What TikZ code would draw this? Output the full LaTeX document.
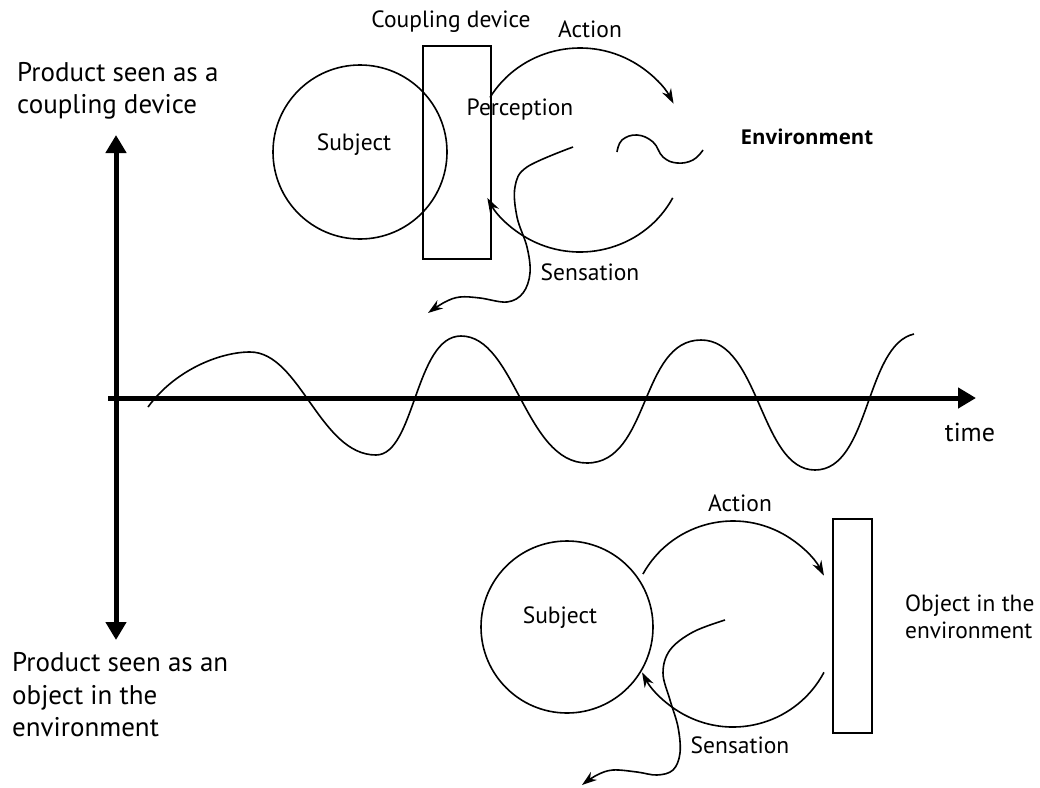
\documentclass[tikz,border=0pt]{standalone}
\usepackage{fontspec}
\setmainfont{PT Sans}
\newfontfamily\envfont{Open Sans}
\usetikzlibrary{arrows.meta}
\begin{document}
\begin{tikzpicture}[x=1pt,y=-1pt,
  axis/.style={line width=5pt},
  axistip/.style={-{Triangle[length=18pt,width=20pt]}},
  axisboth/.style={{Triangle[length=18pt,width=20pt]}-{Triangle[length=18pt,width=20pt]}},
  curve/.style={line width=1.6pt},
  curvetip/.style={-{Stealth[length=15pt,width=10pt]}},
  box/.style={draw, line width=1.6pt, inner sep=0pt, outer sep=0pt},
  ring/.style={draw, circle, line width=1.6pt, inner sep=0pt, outer sep=0pt},
  lbl/.style={font=\fontsize{23.5}{27}\selectfont, inner sep=0pt},
  biglbl/.style={font=\fontsize{27}{32.5}\selectfont, align=left, anchor=west, inner sep=0pt},
  envlbl/.style={font=\envfont\bfseries\fontsize{20.5}{24}\selectfont, inner sep=0pt}
]
\useasboundingbox (0,0) rectangle (1040,787);

% axes
\coordinate (ytop) at (116,135);
\coordinate (ybot) at (116,640);
\coordinate (xleft) at (108,398);
\coordinate (xright) at (976,398);
\draw[axis, axisboth] (ytop) -- (ybot);
\draw[axis, axistip] (xleft) -- (xright);
\node[lbl, font=\fontsize{26}{30}\selectfont] (time) at (970,432) {time};

% wave
\coordinate (w0) at (148,407);
\coordinate (w1) at (250,352);
\coordinate (w2) at (376,455);
\coordinate (w3) at (461,336);
\coordinate (w4) at (587,463);
\coordinate (w5) at (701,340);
\coordinate (w6) at (815,470);
\coordinate (w7) at (914,334);
\draw[curve] (w0) .. controls (175,370) and (220,352) .. (w1)
  .. controls (300,352) and (320,455) .. (w2)
  .. controls (415,455) and (415,336) .. (w3)
  .. controls (515,336) and (525,463) .. (w4)
  .. controls (650,463) and (640,340) .. (w5)
  .. controls (760,340) and (760,470) .. (w6)
  .. controls (870,470) and (865,345) .. (w7);

% left labels
\node[biglbl] (ptop) at (17,91) {Product seen as a\\coupling device};
\node[biglbl] (pbot) at (12,695) {Product seen as an\\object in the\\environment};

% top diagram
\node[ring, minimum size=174pt] (subj1) at (360,152) {};
\node[lbl] (subj1t) at (354,145) {Subject};
\node[box, minimum width=68pt, minimum height=213pt] (cpl) at (457,152.5) {};
\node[lbl] (cplt) at (451,22) {Coupling device};
\node[lbl] (act1) at (590,29) {Action};
\node[lbl] (perc) at (520,110) {Perception};
\node[lbl] (sens1) at (590,272) {Sensation};
\node[envlbl] (env) at (807,137) {Environment};
\coordinate (loop1) at (580,150);
\draw[curve, curvetip] ([shift={(211:105 and 102)}]loop1) arc[start angle=211, end angle=333, x radius=105, y radius=102];
\draw[curve, curvetip] ([shift={(28:105 and 102)}]loop1) arc[start angle=28, end angle=152, x radius=105, y radius=102];
\draw[curve, curvetip] plot[smooth, tension=0.6] coordinates {(573,147) (527,167) (515,187) (517,217) (527,247) (530,273) (523,293) (507,302) (480,298) (460,297) (445,302) (428,313)};
\draw[curve] plot[smooth, tension=0.7] coordinates {(617,152) (622,140) (637,135) (653,142) (663,157) (677,163) (693,160) (703,150)};

% bottom diagram
\node[ring, minimum size=172pt] (subj2) at (567,627) {};
\node[lbl] (subj2t) at (560,618) {Subject};
\node[box, minimum width=39pt, minimum height=214pt] (obj) at (852.5,626) {};
\node[lbl, align=left, anchor=west, font=\fontsize{23.4}{27}\selectfont] (objt) at (905,617) {Object in the\\environment};
\node[lbl] (act2) at (740,503) {Action};
\node[lbl] (sens2) at (740,745) {Sensation};
\coordinate (loop2) at (733,624);
\draw[curve, curvetip] ([shift={(209:103)}]loop2) arc[start angle=209, end angle=332, radius=103];
\draw[curve, curvetip] ([shift={(28:103)}]loop2) arc[start angle=28, end angle=152, radius=103];
\draw[curve, curvetip] plot[smooth, tension=0.6] coordinates {(725,620) (693,632) (670,650) (663,673) (670,700) (678,727) (680,753) (673,770) (657,775) (637,772) (613,770) (597,775) (582,785)};
\end{tikzpicture}
\end{document}
